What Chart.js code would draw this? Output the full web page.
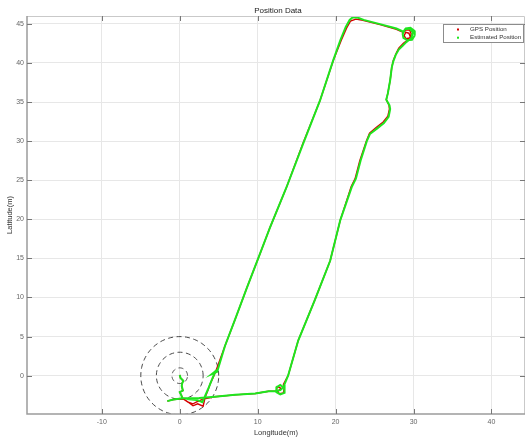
<!DOCTYPE html>
<html><head><meta charset="utf-8">
<script src="https://cdn.jsdelivr.net/npm/chart.js@4.4.1/dist/chart.umd.min.js"></script>
<style>html,body{margin:0;padding:0;background:#fff}canvas{display:block}</style>
</head><body>
<canvas id="c" width="526" height="437"></canvas>
<script>
const chartTitle = 'Position Data';
const xAxisLabel = 'Longitude(m)';
const yAxisLabel = 'Latitude(m)';
const seriesNames = ['GPS Position', 'Estimated Position'];
const xTicks = [-10, 0, 10, 20, 30, 40];
const yTicks = [0, 5, 10, 15, 20, 25, 30, 35, 40, 45];
const xRange = [-19.6, 44.3];
const yRange = [-4.9, 46.0];
const circleRadii = [1, 3, 5];

// Estimated position (green)
const estLon = [0.0, 0.1, 0.45, 0.3, 0.25, 0.4, 0.0, 0.2, 0.3, 1.2, 2.2, 2.9, 3.6, 4.2, 4.6, 4.1, 4.8,
  5.8, 7.1, 8.6, 10.3, 11.6, 13.7, 15.85, 18.0, 19.7, 20.6, 21.3, 21.8, 22.2, 22.8, 23.6, 25.7, 27.8, 28.7,
  29.0, 29.6, 30.1, 30.15, 29.8, 29.2, 28.7, 28.6, 28.9, 29.5, 29.9, 29.7, 29.1, 28.6, 28.1, 27.7, 27.4, 27.2,
  27.0, 26.7, 26.5, 26.9, 27.0, 26.8, 26.2, 25.3, 24.4, 24.0, 23.2, 22.6, 22.1, 20.6, 19.3, 17.3, 15.2, 13.9,
  13.4, 13.5, 13.4, 12.9, 12.4, 12.4, 12.9, 13.3, 12.9, 12.3, 11.4, 9.7, 7.1, 4.5, 2.5, 0.4, -0.8, -1.6];
const estLat = [0.1, -0.3, -0.65, -1.0, -1.3, -1.9, -2.1, -2.5, -2.85, -3.0, -3.1, -3.4, -1.8, -0.3, 0.6, 0.2, 0.5,
  3.8, 7.2, 11.2, 15.6, 19.0, 24.1, 29.7, 35.2, 40.35, 42.9, 44.6, 45.5, 45.85, 45.8, 45.5, 44.96, 44.4, 44.0,
  44.4, 44.5, 44.1, 43.5, 42.95, 42.9, 43.2, 43.7, 44.3, 44.4, 43.9, 43.1, 42.7, 42.2, 41.7, 41.0, 40.2, 39.4,
  37.8, 36.1, 35.3, 34.6, 34.1, 33.1, 32.3, 31.6, 30.9, 30.0, 27.5, 25.2, 24.2, 19.9, 14.7, 9.6, 4.5, 0.0,
  -1.2, -1.6, -2.2, -2.4, -2.1, -1.5, -1.2, -1.5, -1.85, -1.95, -2.0, -2.27, -2.45, -2.7, -2.85, -2.9, -3.05, -3.25];

// GPS position (red)
const gpsLon = [0.0, 0.1, 0.45, 0.3, 0.25, 0.4, 0.0, 0.2, 0.4, 1.1, 1.7, 2.3, 3.0, 3.25, 3.6, 3.9, 4.3, 4.6,
  5.8, 7.1, 8.6, 10.3, 11.6, 13.7, 15.8, 18.0, 19.7, 20.7, 21.4, 21.9, 22.6, 23.5, 25.7, 27.8, 28.7,
  29.0, 29.5, 29.7, 29.5, 29.0, 28.8, 29.0, 29.4, 29.6, 29.2, 28.7, 28.1, 27.8, 27.4, 27.2,
  27.0, 26.7, 26.5, 26.85, 26.9, 26.7, 26.1, 25.2, 24.35, 23.95, 23.1, 22.5, 22.0, 20.6, 19.3, 17.3, 15.2, 13.9,
  13.3, 13.4, 13.3, 12.8, 12.4, 12.5, 13.0, 12.6, 11.4, 9.7, 7.1, 4.5, 3.0, 2.3, 1.7, 1.1, 0.4, -0.8, -1.6];
const gpsLat = [0.1, -0.3, -0.65, -1.0, -1.3, -1.9, -2.1, -2.5, -2.9, -3.4, -3.85, -3.6, -3.9, -2.8, -1.9, -1.07, -0.2, 0.5,
  3.8, 7.2, 11.2, 15.6, 19.0, 24.1, 29.7, 35.2, 40.3, 42.85, 44.45, 45.35, 45.6, 45.45, 44.9, 44.3, 43.9,
  44.2, 44.2, 43.7, 43.2, 43.1, 43.5, 43.9, 43.8, 43.3, 42.9, 42.5, 41.9, 41.3, 40.3, 39.4,
  37.8, 36.1, 35.3, 34.6, 34.1, 33.2, 32.45, 31.75, 31.0, 30.0, 27.5, 25.2, 24.2, 19.9, 14.7, 9.6, 4.5, 0.0,
  -1.1, -1.6, -2.2, -2.3, -1.9, -1.4, -1.6, -2.0, -2.0, -2.27, -2.45, -2.7, -3.0, -3.3, -3.6, -3.4, -2.95, -3.05, -3.25];

const toPts = (xs, ys) => xs.map((x, i) => ({x: x, y: ys[i]}));
const circlePts = r => {
  const pts = [];
  for (let a = 0; a <= 360; a += 4) {
    const t = a * Math.PI / 180;
    pts.push({x: r * Math.cos(t), y: r * Math.sin(t)});
  }
  return pts;
};

const FONT = "'Liberation Sans', Arial, sans-serif";
const GREEN = '#1ee61e';
const RED = '#d40000';

const datasets = [
  {label: seriesNames[1], data: toPts(estLon, estLat), borderColor: GREEN, backgroundColor: GREEN,
   borderWidth: 2, showLine: true, pointRadius: 0, order: 0, tension: 0},
  {label: seriesNames[0], data: toPts(gpsLon, gpsLat), borderColor: RED, backgroundColor: RED,
   borderWidth: 1.4, showLine: true, pointRadius: 0, order: 1, tension: 0}
];
circleRadii.forEach(r => datasets.push({label: 'r' + r, data: circlePts(r), borderColor: '#333',
  borderWidth: 0.9, borderDash: [5, 3.5], showLine: true, pointRadius: 0, order: 2}));

const framePlugin = {
  id: 'frame',
  afterDraw(chart) {
    const {ctx, chartArea: a, scales} = chart;
    ctx.save();
    ctx.strokeStyle = '#c9c9c9'; ctx.lineWidth = 1;
    ctx.beginPath();
    ctx.moveTo(a.left, a.top + 0.5); ctx.lineTo(a.right - 0.5, a.top + 0.5); ctx.lineTo(a.right - 0.5, a.bottom);
    ctx.stroke();
    ctx.strokeStyle = '#9c9c9c'; ctx.lineWidth = 1.5;
    ctx.beginPath();
    ctx.moveTo(a.left, a.top); ctx.lineTo(a.left, a.bottom); ctx.lineTo(a.right, a.bottom);
    ctx.stroke();
    ctx.strokeStyle = '#777'; ctx.lineWidth = 1;
    ctx.beginPath();
    xTicks.forEach(v => {
      const px = Math.round(scales.x.getPixelForValue(v)) + 0.5;
      ctx.moveTo(px, a.bottom); ctx.lineTo(px, a.bottom - 5);
      ctx.moveTo(px, a.top); ctx.lineTo(px, a.top + 5);
    });
    yTicks.forEach(v => {
      const py = Math.round(scales.y.getPixelForValue(v)) + 0.5;
      ctx.moveTo(a.left, py); ctx.lineTo(a.left + 5, py);
      ctx.moveTo(a.right, py); ctx.lineTo(a.right - 5, py);
    });
    ctx.stroke();
    ctx.fillStyle = '#222';
    ctx.font = '8px ' + FONT;
    ctx.textAlign = 'center'; ctx.textBaseline = 'middle';
    ctx.fillText(chartTitle, (a.left + a.right) / 2 + 2, 10.5);
    const bx = 443, by = 24, bw = 80, bh = 18;
    ctx.fillStyle = '#fff'; ctx.fillRect(bx, by, bw, bh);
    ctx.strokeStyle = '#8c8c8c'; ctx.lineWidth = 1;
    ctx.strokeRect(bx + 0.5, by + 0.5, bw, bh);
    ctx.font = '6.2px ' + FONT;
    ctx.textAlign = 'left';
    const items = [[seriesNames[0], RED, 29.5], [seriesNames[1], GREEN, 37.7]];
    items.forEach(([t, c, y]) => {
      ctx.fillStyle = c;
      ctx.fillRect(457, y - 1, 2, 2);
      ctx.fillStyle = '#333';
      ctx.fillText(t, 470, y);
    });
    ctx.restore();
  }
};

new Chart(document.getElementById('c'), {
  type: 'scatter',
  data: {datasets},
  options: {
    responsive: false,
    animation: false,
    events: [],
    layout: {padding: {top: 16, right: 1, left: 0, bottom: 0}},
    plugins: {legend: {display: false}, tooltip: {enabled: false}, title: {display: false}},
    scales: {
      x: {
        type: 'linear', min: xRange[0], max: xRange[1],
        afterBuildTicks: s => { s.ticks = xTicks.map(v => ({value: v})); },
        afterFit: s => { s.height = 23; },
        grid: {color: '#e7e7e7', drawTicks: false, lineWidth: 1},
        border: {display: false},
        ticks: {font: {family: FONT, size: 7}, color: '#666', padding: 4, maxRotation: 0},
        title: {display: true, text: xAxisLabel, font: {family: FONT, size: 7.5}, color: '#333', padding: {top: 0, bottom: 0}}
      },
      y: {
        type: 'linear', min: yRange[0], max: yRange[1],
        afterBuildTicks: s => { s.ticks = yTicks.map(v => ({value: v})); },
        afterFit: s => { s.width = 27; },
        grid: {color: '#e7e7e7', drawTicks: false, lineWidth: 1},
        border: {display: false},
        ticks: {font: {family: FONT, size: 7}, color: '#666', padding: 3},
        title: {display: true, text: yAxisLabel, font: {family: FONT, size: 7.5}, color: '#333', padding: {top: 5, bottom: 0}}
      }
    }
  },
  plugins: [framePlugin]
});
</script>
</body></html>
